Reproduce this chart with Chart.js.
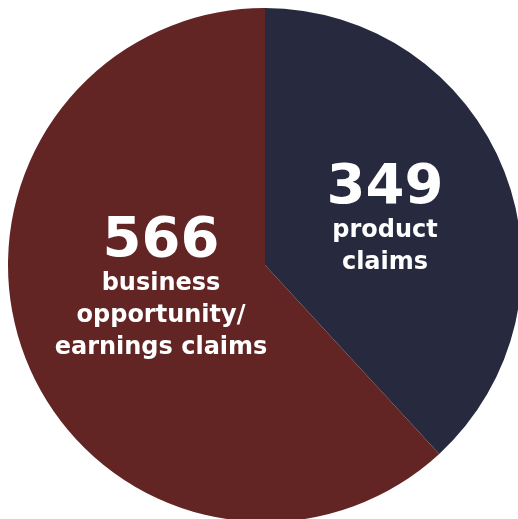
<!DOCTYPE html>
<html>
<head>
<meta charset="utf-8">
<script src="https://cdn.jsdelivr.net/npm/chart.js@4/dist/chart.umd.min.js"></script>
<style>
  html, body { margin: 0; padding: 0; background: #ffffff; overflow: hidden; width: 518px; height: 519px; }
  #wrap { position: absolute; left: 8px; top: 8px; width: 514px; height: 514px; }
</style>
</head>
<body>
<div id="wrap"><canvas id="c"></canvas></div>
<script>
const categories = ["product claims", "business opportunity/earnings claims"];
const values = [349, 566];
const colors = ["#272a3e", "#632524"];
const labelLines = [["product", "claims"], ["business", "opportunity/", "earnings claims"]];

const labelPlugin = {
  id: 'sliceLabels',
  afterDraw(chart) {
    const ctx = chart.ctx;
    const arc = chart.getDatasetMeta(0).data[0];
    const cx = arc.x, cy = arc.y;
    const anchors = [{dx: 120, dy: -80}, {dx: -104, dy: -27}];
    ctx.save();
    ctx.fillStyle = '#ffffff';
    ctx.textAlign = 'center';
    ctx.textBaseline = 'middle';
    values.forEach((v, i) => {
      const ax = cx + anchors[i].dx, ay = cy + anchors[i].dy;
      ctx.font = 'bold 56px "DejaVu Sans"';
      ctx.fillText(String(v), ax, ay + 3);
      ctx.font = 'bold 24px "DejaVu Sans"';
      labelLines[i].forEach((line, j) => {
        ctx.fillText(line, ax, ay + 46 + j * 32);
      });
    });
    ctx.restore();
  }
};

new Chart(document.getElementById('c'), {
  type: 'pie',
  data: {
    labels: categories,
    datasets: [{ data: values, backgroundColor: colors, borderWidth: 0 }]
  },
  options: {
    responsive: true,
    maintainAspectRatio: false,
    animation: false,
    layout: { padding: 0 },
    plugins: { legend: { display: false }, tooltip: { enabled: false } }
  },
  plugins: [labelPlugin]
});
</script>
</body>
</html>
